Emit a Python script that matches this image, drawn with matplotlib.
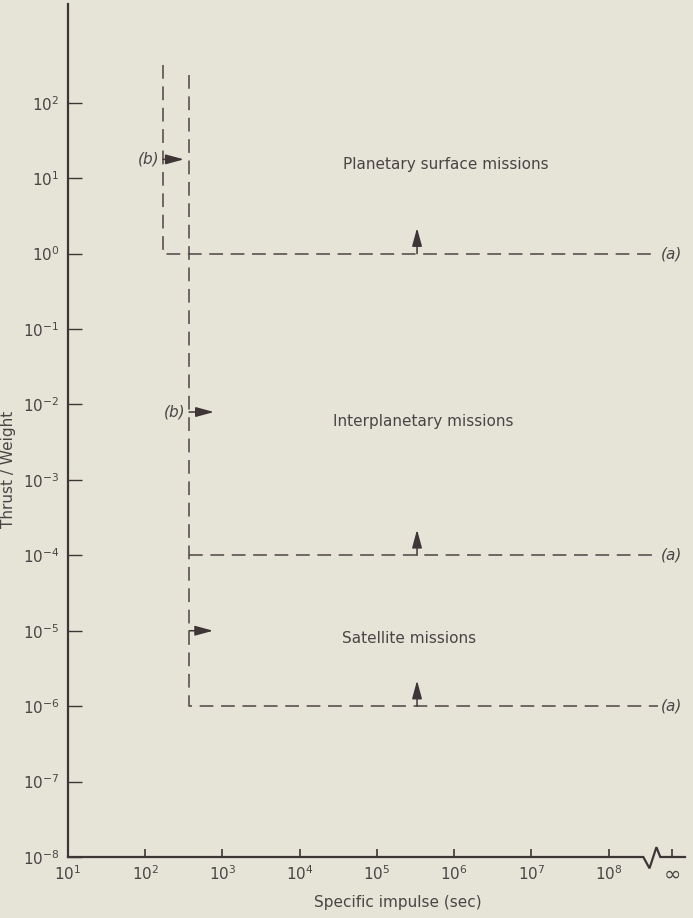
import numpy as np
import matplotlib
matplotlib.use('Agg')
import matplotlib.pyplot as plt

# Data
decades_x = [1, 2, 3, 4, 5, 6, 7, 8]          # specific impulse ticks, 10^n sec
decades_y = list(range(2, -9, -1))           # thrust/weight ticks, 10^n
isp_inf = 10 ** 8.82                         # where "infinity" sits on the axis
isp_left = 170                               # planetary surface lower bound (sec)
isp_right = 370                              # interplanetary / satellite lower bound (sec)
isp_end = 10 ** 8.64                         # lines run out to here
left_top = 10 ** 2.5
right_top = 10 ** 2.37
tw_levels = [1.0, 1e-4, 1e-6]                # (a) thresholds
up_arrow_x = 10 ** 5.52
up_arrow_len = 10 ** 0.34
b_arrow_y = [10 ** 1.25, 10 ** -2.1, 1e-5]
b_arrow_start = [isp_left, isp_right, isp_right]
b_arrow_end = [10 ** 2.5, 10 ** 2.89, 10 ** 2.88]
b_labels = ['(b)', '(b)', '']
region_names = ['Planetary surface missions', 'Interplanetary missions', 'Satellite missions']
region_x = [10 ** 4.56, 10 ** 4.43, 10 ** 4.55]
region_y = [10 ** 1.18, 10 ** -2.23, 10 ** -5.10]
# axis break zig-zag (decades)
break_x = [8.45, 8.53, 8.62, 8.67, 8.99]
break_y = [-8.0, -8.15, -7.87, -8.0, -8.0]

bg = '#e6e3d7'
ink = '#3e3636'
dash_ink = '#4d4444'
txt = '#4a4545'
fam = 'DejaVu Sans'

fig = plt.figure(figsize=(6.93, 9.18), dpi=100, facecolor=bg)
ax = fig.add_axes([68 / 693, 61 / 918, 617 / 693, 853 / 918])
ax.set_facecolor(bg)
ax.set_xscale('log')
ax.set_yscale('log')
ax.set_xlim(10, 10 ** 8.99)
ax.set_ylim(1e-8, 10 ** 3.31)

for s in ['top', 'right', 'bottom']:
    ax.spines[s].set_visible(False)
ax.spines['left'].set_color(ink)
ax.spines['left'].set_linewidth(1.6)

# bottom axis with break before infinity
bx = [10] + [10 ** v for v in break_x]
by = [1e-8] + [10 ** v for v in break_y]
ax.plot(bx, by, color=ink, lw=1.6, clip_on=False, solid_joinstyle='miter')

# ticks
xt = [10.0 ** d for d in decades_x] + [isp_inf]
xl = [r'$10^{%d}$' % d for d in decades_x] + [r'$\infty$']
ax.set_xticks(xt)
ax.set_xticklabels(xl)
ax.minorticks_off()
ax.tick_params(axis='x', direction='in', length=6, width=1.2, color=ink,
               labelsize=11, labelcolor=txt, pad=5)
ax.get_xticklabels()[-1].set_fontsize(15)
yt = [10.0 ** d for d in decades_y]
ax.set_yticks(yt)
ax.set_yticklabels([r'$10^{%d}$' % d for d in decades_y])
ax.tick_params(axis='y', direction='in', length=10, width=1.0, color=ink,
               labelsize=11, labelcolor=txt, pad=6)
ax.minorticks_off()

ax.set_xlabel('Specific impulse (sec)', fontsize=11, color=txt, family=fam)
ax.xaxis.set_label_coords(0.535, -0.045)
ax.set_ylabel('Thrust / Weight', fontsize=11, color=txt, family=fam)
ax.yaxis.set_label_coords(-0.084, 0.454)

dash = dict(color=dash_ink, lw=1.1, dashes=(9, 5), clip_on=False)
# left boundary and planetary surface threshold
ax.plot([isp_left, isp_left, isp_end], [left_top, tw_levels[0], tw_levels[0]], **dash)
# right boundary down to satellite threshold
ax.plot([isp_right, isp_right, isp_end], [right_top, tw_levels[2], tw_levels[2]], **dash)
# interplanetary threshold
ax.plot([isp_right, isp_end], [tw_levels[1], tw_levels[1]], **dash)

arrow = dict(arrowstyle='-|>,head_width=0.3,head_length=1.1',
             mutation_scale=10, color=ink, lw=1.1, shrinkA=0, shrinkB=0)

for lvl in tw_levels:
    ax.text(isp_end * 1.08, lvl, '(a)', fontsize=11, color=txt, style='italic',
            family=fam, va='center', ha='left')
    ax.annotate('', xy=(up_arrow_x, lvl * up_arrow_len), xytext=(up_arrow_x, lvl),
                arrowprops=arrow)

for y, x0, x1, lab in zip(b_arrow_y, b_arrow_start, b_arrow_end, b_labels):
    ax.annotate('', xy=(x1, y), xytext=(x0, y), arrowprops=arrow)
    if lab:
        ax.text(x0 / 1.12, y, lab, fontsize=11, color=txt, style='italic',
                family=fam, va='center', ha='right')

for name, x, y in zip(region_names, region_x, region_y):
    ax.text(x, y, name, fontsize=11, color=txt, family=fam, va='center', ha='left')

fig.savefig('out.png', dpi=100, facecolor=bg)
